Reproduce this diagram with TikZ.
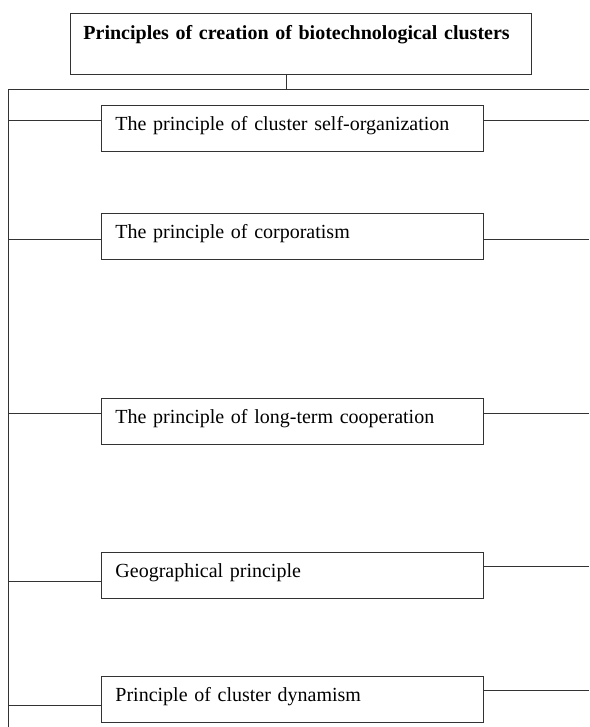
\documentclass[tikz,border=0pt]{standalone}
\usepackage{fontspec}
\setmainfont{Liberation Serif}
\usetikzlibrary{positioning}
\begin{document}
\begin{tikzpicture}[
            x=1pt, y=1pt,
            every node/.style={draw=black!80, line width=0.9pt, anchor=north west,
                inner ysep=0pt, align=left, font=\fontsize{20}{24}\selectfont},
            head/.style={inner xsep=13pt, text width=435pt, text height=26pt, text depth=35pt,
                font=\fontsize{20}{24}\selectfont\bfseries},
            principle/.style={inner xsep=14pt, text width=354pt, text height=25pt, text depth=21pt},
            link/.style={draw=black!80, line width=0.9pt}
        ]
        \useasboundingbox (0,0) rectangle (589,-727);
        \node[head] (title) at (70,-13) {Principles of creation of biotechnological clusters};
        \node[principle] (p1) at (101,-105) {The principle of cluster self-organization};
        \node[principle, below=61pt of p1.south west, anchor=north west] (p2) {The principle of corporatism};
        \node[principle, below=138pt of p2.south west, anchor=north west] (p3) {The principle of long-term cooperation};
        \node[principle, below=107pt of p3.south west, anchor=north west] (p4) {Geographical principle};
        \node[principle, below=77pt of p4.south west, anchor=north west] (p5) {Principle of cluster dynamism};
        \coordinate (busL) at (8,-89);
        \coordinate (busR) at (589,-89);
        \coordinate (base) at (8,-727);
        \draw[link] ([xshift=-15pt]title.south) -- ([xshift=-15pt]title.south |- busL);
        \draw[link] (busR) -- (busL) -- (base);
        \foreach \n/\l/\r in {p1/15/15, p2/27/27, p3/16/16, p4/30/15, p5/30/15} {
            \draw[link] ([yshift=-\l pt]\n.north west -| busL) -- ([yshift=-\l pt]\n.north west);
            \draw[link] ([yshift=-\r pt]\n.north east) -- ([yshift=-\r pt]\n.north east -| busR);
        }
    \end{tikzpicture}
\end{document}
